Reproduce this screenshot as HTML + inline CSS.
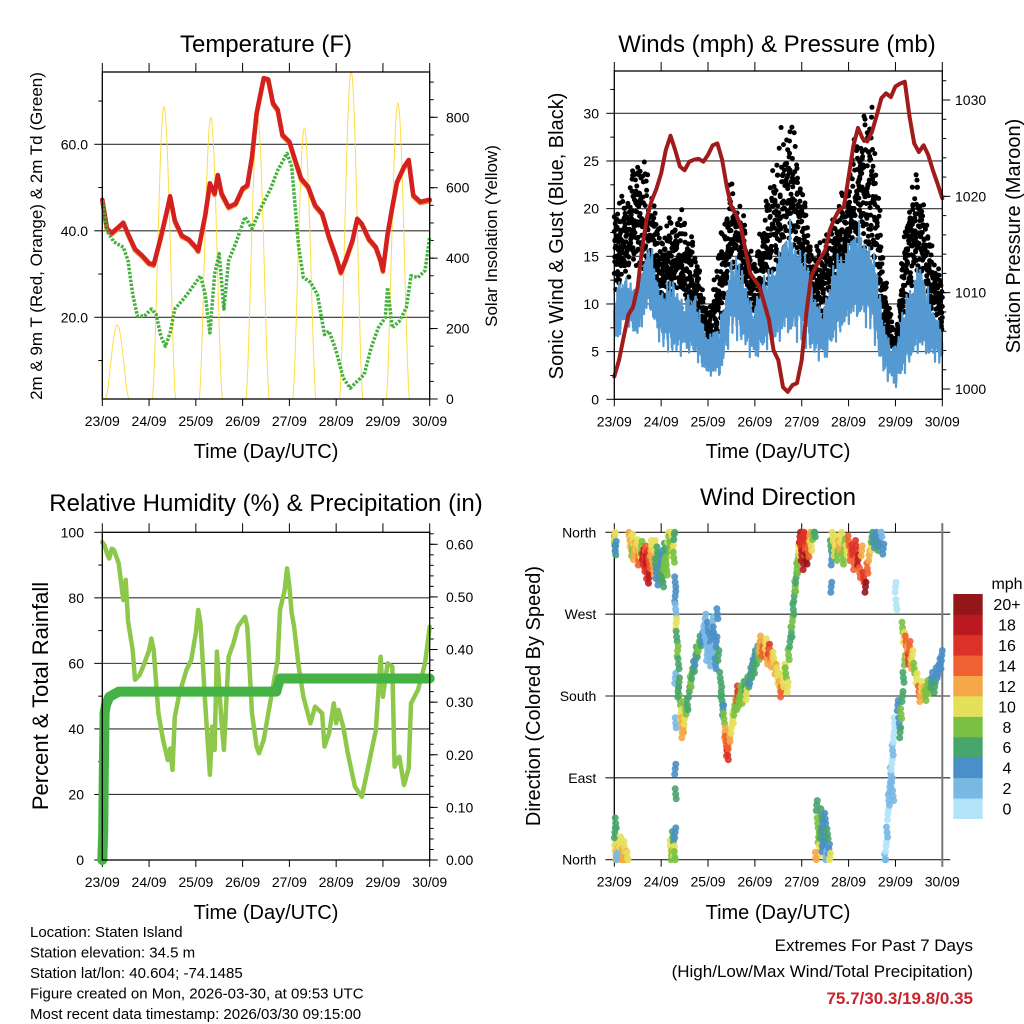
<!DOCTYPE html>
<html><head><meta charset="utf-8">
<style>
html,body{margin:0;padding:0;background:#fff;}
svg{display:block;font-family:"Liberation Sans",Arial,sans-serif;}
</style></head>
<body>
<svg id="chart" xmlns="http://www.w3.org/2000/svg" width="1024" height="1024" viewBox="0 0 1024 1024">
<rect x="0" y="0" width="1024" height="1024" fill="#fff"/>
<g id="layer"></g>
<text x="266" y="52" font-size="24" text-anchor="middle">Temperature (F)</text>
<text x="777" y="52" font-size="24" text-anchor="middle">Winds (mph) &amp; Pressure (mb)</text>
<text x="266" y="511" font-size="24" text-anchor="middle">Relative Humidity (%) &amp; Precipitation (in)</text>
<text x="778" y="505" font-size="24" text-anchor="middle">Wind Direction</text>
<text x="266" y="458" font-size="20" text-anchor="middle">Time (Day/UTC)</text>
<text x="778" y="458" font-size="20" text-anchor="middle">Time (Day/UTC)</text>
<text x="266" y="919" font-size="20" text-anchor="middle">Time (Day/UTC)</text>
<text x="778" y="919" font-size="20" text-anchor="middle">Time (Day/UTC)</text>
<text transform="translate(42,236) rotate(-90)" font-size="17" text-anchor="middle">2m &amp; 9m T (Red, Orange) &amp; 2m Td (Green)</text>
<text transform="translate(497,236) rotate(-90)" font-size="17" text-anchor="middle">Solar Insolation (Yellow)</text>
<text transform="translate(563,236) rotate(-90)" font-size="20" text-anchor="middle">Sonic Wind &amp; Gust (Blue, Black)</text>
<text transform="translate(1020,236) rotate(-90)" font-size="20" text-anchor="middle">Station Pressure (Maroon)</text>
<text transform="translate(48,696) rotate(-90)" font-size="22" text-anchor="middle">Percent &amp; Total Rainfall</text>
<text transform="translate(540,696) rotate(-90)" font-size="20" text-anchor="middle">Direction (Colored By Speed)</text>
<g font-size="15">
<text x="30" y="937">Location: Staten Island</text>
<text x="30" y="957.5">Station elevation: 34.5 m</text>
<text x="30" y="978">Station lat/lon: 40.604; -74.1485</text>
<text x="30" y="998.5">Figure created on Mon, 2026-03-30, at 09:53 UTC</text>
<text x="30" y="1019">Most recent data timestamp: 2026/03/30 09:15:00</text>
</g>
<text x="973" y="951" font-size="17" text-anchor="end">Extremes For Past 7 Days</text>
<text x="973" y="977" font-size="17" text-anchor="end">(High/Low/Max Wind/Total Precipitation)</text>
<text x="973" y="1004" font-size="17" font-weight="bold" fill="#c8242b" text-anchor="end">75.7/30.3/19.8/0.35</text>
</svg>
<script>
// ---------- data ----------
const dayLabels=['23/09','24/09','25/09','26/09','27/09','28/09','29/09','30/09'];
const tempT=[0,0.1,0.2,0.35,0.45,0.55,0.7,0.85,1.0,1.1,1.25,1.4,1.45,1.55,1.7,1.85,2.0,2.05,2.2,2.3,2.4,2.47,2.55,2.7,2.85,3.0,3.1,3.2,3.3,3.45,3.55,3.65,3.75,3.85,4.0,4.1,4.25,4.4,4.55,4.7,4.85,5.0,5.1,5.2,5.35,5.45,5.55,5.7,5.85,5.95,6.0,6.1,6.2,6.3,6.45,6.55,6.65,6.8,7.0];
const tempF=[47.2,40.5,39.5,40.9,41.9,39.3,35.8,34.3,32.5,32.2,38.5,45.5,48,42.4,38.9,38,36.2,35.4,43.6,51,48.6,52.9,48.6,45.5,46.3,49.8,50.5,57.1,67.2,75.3,75,69.5,68,62.2,60.6,57.1,52.1,50.2,45.9,44,38.5,33.9,30.4,33.1,37.8,42.8,41.6,38.1,36.2,33.1,30.8,39.3,45.5,51.3,54.8,56.4,48.2,46.7,47.2];
const dewT=[0,0.1,0.25,0.45,0.55,0.65,0.75,0.9,1.05,1.15,1.25,1.35,1.45,1.55,1.75,1.95,2.1,2.2,2.3,2.4,2.5,2.6,2.7,2.85,3.05,3.2,3.4,3.6,3.75,3.95,4.05,4.2,4.3,4.45,4.6,4.75,4.85,5.0,5.15,5.3,5.45,5.6,5.75,5.9,6.05,6.1,6.2,6.35,6.5,6.6,6.75,6.9,7.0];
const dewF=[47,40,37.4,36.2,33.1,25.3,20.3,20.3,21.9,20.7,15.7,13.3,16.4,21.9,24.4,27.3,29.6,25.3,16.4,30,34.7,21.9,33.1,37,43.2,40.5,45.5,49.8,54,57.9,54.8,36.2,29.2,28.1,25.3,16,16.8,12.2,6,3.6,5.2,6.8,13,17.6,19.9,26.9,17.6,19.1,22.2,29.6,29.2,30.8,38.5];
const solarPeak=[210,830,800,800,770,930,840];
const presStep=0.1;
const presMb=[1001.3,1003,1005.4,1007.7,1008.5,1010.6,1014.8,1017.9,1019.6,1020.8,1022.4,1024.8,1026.3,1024.8,1023.1,1022.7,1023.6,1023.8,1023.9,1023.6,1024.3,1025.3,1025.5,1023.8,1021,1018.9,1018.1,1016.9,1014.4,1012,1011.3,1010.6,1008.9,1007.2,1004,1003,1000.2,999.7,1000.4,1000.6,1003,1007.9,1011.7,1012.7,1013.6,1014.4,1016.5,1017.7,1018.6,1018.9,1022,1025.2,1027.1,1026,1025.7,1026.7,1028.4,1030.2,1030.7,1030.3,1031.4,1031.7,1031.9,1028.3,1025.5,1024.6,1025.3,1024.3,1022.7,1021.3,1019.8];
const windStep=0.25;
const windLo=[4,8,6,9,5,4,4,4,2,2,6,5,3,5,5,6,5,4,3,6,7,8,6,2,0.5,3,4,4,3];
const windHi=[13,13,12,17,12,13,12,11,7,8,16,14,11,14,16,19,17,12,11,16,17,19,17,9,6,12,15,11,8];
const gustLo=[10,12,12,9,8,10,9,7,4,6,12,10,7,10,9,14,12,7,8,11,12,14,13,5,3,9,12,8,6];
const gustHi=[21,22,28,24,18,20,20,16,9,17,24,20,15,22,28,31,24,16,18,20,25,30,32,15,6,22,25,17,13];
const rhT=[0,0.05,0.1,0.15,0.2,0.25,0.35,0.45,0.5,0.55,0.65,0.7,0.8,0.9,1.0,1.05,1.1,1.2,1.3,1.4,1.45,1.5,1.55,1.65,1.8,1.9,2.0,2.05,2.1,2.2,2.3,2.35,2.4,2.45,2.55,2.6,2.7,2.8,2.9,3.0,3.05,3.1,3.2,3.3,3.35,3.45,3.55,3.65,3.75,3.8,3.9,3.95,4.0,4.05,4.1,4.2,4.3,4.45,4.55,4.7,4.75,4.85,4.95,5.0,5.05,5.15,5.25,5.4,5.55,5.7,5.85,5.95,6.0,6.1,6.2,6.25,6.35,6.45,6.55,6.6,6.75,6.9,7.0];
const rhV=[97,96,93.5,92,95,94.6,90.5,79.3,85.5,73,64,55,56.5,60,64,67.6,64,44.8,36.6,30.5,34,27.5,43.7,50.9,58,61,69.2,76.3,72.2,47.8,26,40.7,33.6,63.6,41.7,33.6,62,66,71.2,73.2,74.2,71.2,44.8,34.6,32.6,36.6,44.8,52.9,61,76.3,82.4,89,83.4,75.3,71.2,59,49.8,41.7,46.8,44.8,34.6,38.7,47.8,41.7,45.8,40.7,32.6,22.4,19.3,29.5,39.7,62,49.8,60,59,28.5,31.5,22.9,28,47.8,51.9,60,71.2];
const precipT=[0,0.02,0.03,0.05,0.08,0.15,0.35,3.72,3.8,7.0];
const precipIn=[0,0.05,0.15,0.28,0.295,0.31,0.32,0.32,0.345,0.345];
const speedBins=['0','2','4','6','8','10','12','14','16','18','20+'];
const speedColors=['#b3e3f9','#7ab8e4','#4a8fc7','#48a56b','#7ac143','#e5e05a','#f5a847','#ef6130','#dd3227','#b9191f','#93161a'];
const dirLabels=['North','East','South','West','North'];
// [day, direction deg, speed mph]
const windDirObs=[[0.02,10,10],[0.04,5,12],[0.06,15,11],[0.08,3,13],[0.1,8,12],[0.12,20,10],[0.14,2,12],[0.16,12,11],[0.18,6,13],[0.2,0,12],[0.22,14,10],[0.25,4,12],[0.28,2,11],[0.01,30,7],[0.03,40,6],[0.05,2,3],
[0.0,350,5],[0.01,357,10],[0.02,340,7],[0.03,345,4],
[0.32,356,12],[0.34,350,11],[0.36,345,12],[0.38,340,9],[0.4,352,10],[0.42,336,13],[0.45,343,12],[0.48,347,10],[0.5,335,12],[0.52,330,14],[0.55,338,11],[0.58,345,9],
[0.6,330,16],[0.62,336,18],[0.64,322,16],[0.66,340,15],[0.68,328,19],[0.7,315,16],[0.72,333,17],[0.74,310,18],[0.76,325,15],[0.78,340,13],[0.8,345,11],[0.82,335,12],[0.84,318,13],[0.86,346,10],
[0.88,325,6],[0.9,315,5],[0.92,338,7],[0.94,308,4],[0.96,330,6],[0.98,320,4],[1.0,312,7],[1.02,335,5],[1.04,305,6],[1.06,325,8],[1.08,342,7],[1.1,328,8],[1.12,318,9],
[1.15,355,10],[1.18,350,8],[1.2,345,9],[1.22,360,10],[1.25,340,11],[1.27,332,8],[1.28,358,6],
[1.2,15,10],[1.22,5,8],[1.25,25,6],[1.27,10,10],[1.29,3,9],[1.3,30,5],
[1.3,305,4],[1.3,290,4],[1.31,275,3],[1.32,260,10],[1.33,245,7],[1.3,200,3],[1.31,150,3],[1.3,100,4],[1.31,72,6],
[1.35,230,8],[1.37,215,7],[1.38,195,6],[1.4,175,8],[1.42,160,10],[1.44,150,12],[1.45,140,13],[1.47,145,12],[1.5,155,10],[1.52,165,9],[1.36,185,7],
[1.56,170,6],[1.6,185,7],[1.63,195,8],[1.66,205,6],[1.7,212,7],[1.73,220,5],[1.76,228,6],[1.8,235,8],[1.84,240,6],[1.88,245,5],
[1.92,250,2],[1.94,265,3],[1.96,240,2],[1.98,225,2],[2.0,255,4],[2.02,235,2],[2.04,218,3],[2.06,245,4],[2.08,228,2],[2.1,262,3],[2.12,250,4],[2.14,232,3],[2.16,215,4],[2.18,240,5],[2.2,270,4],[2.22,225,6],
[2.26,200,6],[2.28,185,7],[2.3,175,6],[2.32,165,5],[2.34,155,8],
[2.36,140,13],[2.38,130,14],[2.4,120,15],[2.42,115,16],[2.44,128,14],[2.46,135,12],[2.5,145,11],[2.53,155,10],[2.56,165,9],[2.6,170,9],
[2.62,180,14],[2.64,185,16],[2.66,175,8],[2.7,185,9],[2.74,178,8],[2.78,190,6],[2.82,182,10],[2.86,195,6],[2.9,200,5],
[2.92,205,6],[2.95,215,4],[2.98,210,7],[3.0,225,5],[3.02,220,6],[3.05,230,4],[3.08,225,8],
[3.1,235,13],[3.13,240,12],[3.16,230,14],[3.2,228,15],[3.23,238,11],[3.26,220,13],[3.3,232,16],[3.33,225,14],[3.36,218,12],[3.4,222,10],[3.44,210,12],[3.48,205,10],
[3.5,200,11],[3.53,190,12],[3.56,185,14],[3.6,195,10],[3.63,210,10],[3.66,205,8],[3.7,190,10],
[3.72,225,8],[3.75,240,6],[3.78,250,7],[3.8,262,9],[3.82,275,6],[3.84,290,7],[3.86,300,8],[3.88,310,6],[3.9,320,9],[3.92,330,8],[3.94,340,10],
[3.96,355,18],[3.98,345,17],[4.0,335,19],[4.02,350,16],[4.04,325,18],[4.06,358,17],[4.08,340,15],[4.1,330,20],[4.12,352,16],[4.14,338,14],[4.17,356,12],[4.2,345,10],[4.24,358,8],[4.28,360,7],
[4.32,60,7],[4.34,40,8],[4.36,25,9],[4.38,10,11],[4.4,30,7],[4.42,50,6],[4.44,15,4],[4.46,35,4],[4.48,20,5],[4.5,45,4],[4.52,5,3],[4.55,28,6],[4.58,12,4],[4.3,2,12],[4.6,2,10],
[4.62,345,6],[4.64,330,5],[4.66,355,10],[4.7,340,10],[4.73,350,11],[4.76,335,9],[4.8,345,12],[4.84,355,10],[4.88,330,8],[4.92,348,9],[4.96,340,11],[4.63,300,4],
[5.0,350,14],[5.04,335,15],[5.08,340,16],[5.12,325,14],[5.16,345,17],[5.2,330,18],[5.24,315,15],[5.28,340,13],[5.32,310,16],[5.36,300,20],[5.4,320,14],[5.44,335,12],[5.48,345,11],
[5.5,355,6],[5.54,348,5],[5.58,358,4],[5.62,345,6],[5.66,352,4],[5.7,360,3],[5.74,342,5],
[5.78,0,2],[5.8,15,1],[5.82,30,2],[5.84,50,1],[5.86,65,2],[5.88,80,2],[5.9,95,3],[5.92,105,1],[5.94,120,2],[5.96,135,1],[5.98,150,1],[5.92,85,2],[5.95,70,2],[6.0,300,0],[6.02,280,1],
[6.05,170,4],[6.08,150,5],[6.1,140,7],[6.12,160,9],[6.15,180,6],[6.17,200,7],[6.2,220,8],
[6.15,255,8],[6.18,245,10],[6.22,240,14],[6.25,230,12],[6.28,220,16],[6.3,235,14],[6.33,215,12],[6.36,225,10],[6.4,210,9],[6.45,200,10],
[6.5,185,14],[6.53,180,12],[6.56,190,10],[6.6,185,12],[6.64,180,8],[6.68,192,9],[6.72,188,8],
[6.76,195,6],[6.8,200,5],[6.84,190,6],[6.88,205,4],[6.92,210,5],[6.96,215,4],[6.99,225,4]];

// ---------- helpers ----------
const NS='http://www.w3.org/2000/svg';
const layer=document.getElementById('layer');
function mk(tag,attrs){const e=document.createElementNS(NS,tag);for(const k in attrs)e.setAttribute(k,attrs[k]);layer.appendChild(e);return e;}
function stepInterp(step,vs,t){const i=Math.min(Math.floor(t/step),vs.length-2);const f=(t-i*step)/step;return vs[i]+f*(vs[i+1]-vs[i]);}

const P1={x0:102.3,x1:429.7,y0:72,y1:399};
const P2={x0:614.3,x1:942.3,y0:71,y1:399.3};
const P3={x0:102.3,x1:429.7,y0:532.3,y1:860};
const P4={x0:614.3,x1:942.3,y0:532.3,y1:859.7};
function xOf(p,t){return p.x0+(p.x1-p.x0)*t/7;}
const yTemp=v=>403.8-v*4.325;
const ySolar=v=>399-v*(399-117.3)/800;
const yWind=v=>399.3-v*9.533;
const yPres=v=>389-(v-1000)*9.633;
const yRH=v=>860-v*(860-532.3)/100;
const yPrecip=v=>860-v*(860-544.3)/0.6;
const yDir=v=>859.7-v*(859.7-532.3)/360;

function hline(x1,x2,y,name,stroke,w){const l=mk('line',{x1:x1,x2:x2,y1:y,y2:y,stroke:stroke||'#000','stroke-width':w||1});


return l;}
function vline(x,y1,y2,name,stroke,w){const l=mk('line',{x1:x,x2:x,y1:y1,y2:y2,stroke:stroke||'#000','stroke-width':w||1});


return l;}
function label(x,y,txt,anchor,size,name){const t=mk('text',{x:x,y:y,'text-anchor':anchor,'font-size':size});t.textContent=txt;


return t;}
function xAxis(p){
  for(let d=0;d<=7;d++){const x=xOf(p,d);
    vline(x,p.y0-9,p.y0,'x-tick-top');
    vline(x,p.y1,p.y1+7,'x-tick-bottom');
    label(x,p.y1+27,dayLabels[d],'middle',14,'x-tick-label');}
}
function leftAxis(p,yf,majors,minors,fmt,gridVals,lx){
  majors.forEach(v=>{hline(p.x0-8,p.x0,yf(v),'y-tick-left');label(lx,yf(v)+5,fmt(v),'end',14,'y-tick-label-left');});
  minors.forEach(v=>hline(p.x0-4,p.x0,yf(v),'y-minor-tick-left'));
  gridVals.forEach(v=>hline(p.x0,p.x1,yf(v),'grid-line','#333',1.1));
}
function rightAxis(p,yf,majors,minors,fmt,lx){
  majors.forEach(v=>{hline(p.x1,p.x1+8,yf(v),'y-tick-right');label(lx,yf(v)+5,fmt(v),'start',14,'y-tick-label-right');});
  minors.forEach(v=>hline(p.x1,p.x1+4,yf(v),'y-minor-tick-right'));
}
function frame(p,name){const r=mk('rect',{x:p.x0,y:p.y0,width:p.x1-p.x0,height:p.y1-p.y0,fill:'none',stroke:'#000','stroke-width':1.3});

}
function polyline(pts,stroke,w,name,extra){const e=mk('polyline',Object.assign({points:pts.map(q=>q[0].toFixed(1)+','+q[1].toFixed(1)).join(' '),fill:'none',stroke:stroke,'stroke-width':w,'stroke-linejoin':'round','stroke-linecap':'round'},extra||{}));


return e;}
function range(a,b,s){const r=[];for(let v=a;v<=b+1e-9;v+=s)r.push(+v.toFixed(4));return r;}
const pattern=[0.12,0.67,0.35,0.91,0.05,0.52,0.78,0.24,0.44,0.98,0.6,0.3,0.85,0.15,0.72,0.4];
const pattern2=[0.5,0.2,0.8,0.35,0.65,0.1,0.95,0.45,0.25,0.7,0.05,0.55,0.9,0.3,0.75,0.15,0.6,0.4,0.85,0.0,0.5,0.2,1.0];
function jit(i){return 0.55*pattern[(i*5)%16]+0.45*pattern2[(i*3)%23];}

// ---------- Panel 1: temperature ----------
leftAxis(P1,yTemp,[20,40,60],[10,30,50,70],v=>v.toFixed(1),[20,40,60],88);
rightAxis(P1,ySolar,range(0,800,200),range(0,900,50),v=>String(v),446);
xAxis(P1);
for(let d=0;d<7;d++){
  const pts=[];const a=d+0.07,b=d+0.57;
  for(let t=a;t<=b+1e-9;t+=0.005){const f=(t-a)/(b-a);pts.push([xOf(P1,t),ySolar(solarPeak[d]*Math.pow(Math.sin(Math.PI*f),1.6))]);}
  polyline(pts,'#ffd92f',1,'solar-insolation-day',{opacity:0.9});
}
polyline(tempT.map((t,i)=>[xOf(P1,t),yTemp(tempF[i]-0.3)]),'#f08a28',4.5,'temperature-9m-line');
polyline(tempT.map((t,i)=>[xOf(P1,t),yTemp(tempF[i])]),'#d42020',4.5,'temperature-2m-line');
polyline(dewT.map((t,i)=>[xOf(P1,t),yTemp(dewF[i])]),'#44b03c',3.5,'dewpoint-line',{'stroke-dasharray':'2.5 1.5','stroke-linecap':'butt'});
frame(P1,'temperature-plot-frame');

// ---------- Panel 2: winds & pressure ----------
leftAxis(P2,yWind,range(0,30,5),range(2.5,32.5,5),v=>String(v),range(5,30,5),599);
rightAxis(P2,yPres,range(1000,1030,10),range(1000,1032,2),v=>String(v),955);
xAxis(P2);
for(let i=0;i<=700;i++){const t=i*0.01;
  const lo=stepInterp(windStep,gustLo,t),hi=stepInterp(windStep,gustHi,t);
  [jit(i),jit(i+101),jit(i+257)].forEach(f=>{
    const c=mk('circle',{cx:xOf(P2,t).toFixed(1),cy:yWind(lo+(hi-lo)*f).toFixed(1),r:2.5,fill:'#000'});
    
    
  });}
{const pts=[];for(let i=0;i<=1750;i++){const t=i*0.004;const lo=stepInterp(windStep,windLo,t),hi=stepInterp(windStep,windHi,t);const f=jit(i*3+7);pts.push([xOf(P2,t),yWind(lo+(hi-lo)*f)]);}
polyline(pts,'#5499d1',2.2,'sonic-wind-line');}
polyline(presMb.map((v,i)=>[xOf(P2,i*presStep),yPres(v)]),'#a01c1c',4,'pressure-line');
frame(P2,'winds-plot-frame');

// ---------- Panel 3: RH & precip ----------
leftAxis(P3,yRH,range(0,100,20),range(10,90,20),v=>String(v),[20,40,60,80],84);
rightAxis(P3,yPrecip,range(0,0.6,0.1),range(0,0.62,0.02),v=>v.toFixed(2),446);
xAxis(P3);
polyline(rhT.map((t,i)=>[xOf(P3,t),yRH(rhV[i])]),'#8dc84b',4.5,'relative-humidity-line');
polyline(precipT.map((t,i)=>[xOf(P3,t),yPrecip(precipIn[i])]),'#44b244',10,'precipitation-line');
frame(P3,'humidity-plot-frame');

// ---------- Panel 4: wind direction ----------
[0,90,180,270,360].forEach((v,i)=>{hline(P4.x0-9,P4.x1+8,yDir(v),'direction-grid-line','#222',1.1);label(P4.x0-18,yDir(v)+5,dirLabels[i],'end',14,'direction-tick-label');});
xAxis(P4);
vline(P4.x0,P4.y0,P4.y1,'direction-left-axis','#000',1.3);
vline(P4.x1,P4.y0-9,P4.y1+7,'direction-right-axis','#777',2);
const copyDt=[0,0.012,-0.01],copyDd=[0,5,-6];
windDirObs.forEach((o,k)=>{const bin=Math.min(10,Math.floor(o[2]/2));
  for(let c=0;c<3;c++){
    let deg=o[1]+copyDd[c]*((k%2)?1:-1);deg=Math.max(0,Math.min(360,deg));
    const t=Math.max(0,Math.min(7,o[0]+copyDt[c]));
    const e=mk('circle',{cx:xOf(P4,t).toFixed(1),cy:yDir(deg).toFixed(1),r:3.5,fill:speedColors[bin],opacity:0.9});
    
    
  }
});
const cbX=953.3,cbW=29.4,cbTop=594,cbH=224.7;const boxH=cbH/speedBins.length;
speedBins.forEach((s,i)=>{const y=cbTop+cbH-(i+1)*boxH;
  const r=mk('rect',{x:cbX,y:y.toFixed(2),width:cbW,height:(boxH+0.3).toFixed(2),fill:speedColors[i]});
  
  
  label(1007,y+boxH/2+6,s,'middle',16,'colorbar-label');});
label(1007,589,'mph','middle',16,'colorbar-title');
</script>
</body></html>
